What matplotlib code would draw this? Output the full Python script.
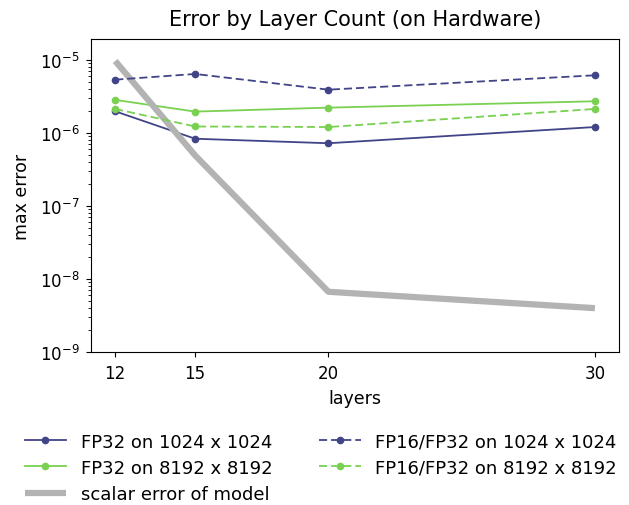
import matplotlib
matplotlib.use("Agg")
import matplotlib.pyplot as plt

layers = [12, 15, 20, 30]

fp32_1024 = [1.97e-6, 8.3e-7, 7.2e-7, 1.2e-6]
fp32_8192 = [2.82e-6, 1.95e-6, 2.21e-6, 2.7e-6]
fp16_1024 = [5.33e-6, 6.38e-6, 3.89e-6, 6.12e-6]
fp16_8192 = [2.12e-6, 1.22e-6, 1.2e-6, 2.12e-6]
scalar_err = [9.6e-6, 4.9e-7, 6.7e-9, 4.0e-9]

NAVY = "#414487"
GREEN = "#7ad151"
DASH = (4.5, 2.2)

fig = plt.figure(figsize=(6.29, 5.06), dpi=100)
ax = fig.add_axes([0.145, 0.302, 0.839, 0.619])

ax.plot(layers, fp32_1024, '-', marker='o', ms=4.5, lw=1.3, color=NAVY,
        label="FP32 on 1024 x 1024")
ax.plot(layers, fp32_8192, '-', marker='o', ms=4.5, lw=1.3, color=GREEN,
        label="FP32 on 8192 x 8192")
ax.plot(layers, scalar_err, '-', lw=4.5, color="#b3b3b3",
        label="scalar error of model", solid_capstyle='butt')
ax.plot(layers, fp16_1024, '--', dashes=DASH, marker='o', ms=4.5, lw=1.3,
        color=NAVY, label="FP16/FP32 on 1024 x 1024")
ax.plot(layers, fp16_8192, '--', dashes=DASH, marker='o', ms=4.5, lw=1.3,
        color=GREEN, label="FP16/FP32 on 8192 x 8192")

ax.set_yscale("log")
ax.set_ylim(1e-9, 1.92e-5)
ax.set_xlim(11.1, 30.9)
ax.set_xticks(layers)
ax.tick_params(labelsize=12, pad=5)
ax.set_xlabel("layers", fontsize=12.5, labelpad=5)
ax.set_ylabel("max error", fontsize=12.5, labelpad=6)
ax.set_title("Error by Layer Count (on Hardware)", fontsize=15, pad=10)

handles, labels = ax.get_legend_handles_labels()
fig.legend(handles, labels, ncol=2, frameon=False, fontsize=13,
           loc="lower center", bbox_to_anchor=(0.51, -0.028),
           columnspacing=2.6, handlelength=2.3, labelspacing=0.45,
           handletextpad=0.8)

fig.savefig("out.png", dpi=100)
